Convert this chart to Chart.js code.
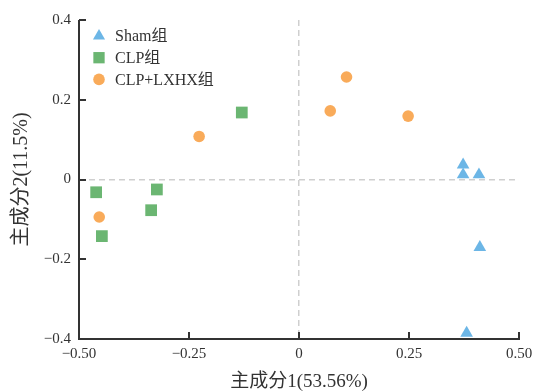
<!DOCTYPE html>
<html>
<head>
<meta charset="utf-8">
<script src="https://cdn.jsdelivr.net/npm/chart.js@4.4.1/dist/chart.umd.min.js"></script>
<style>
  html, body { margin: 0; padding: 0; background: #fff; }
  #wrap { width: 539px; height: 392px; }
</style>
</head>
<body>
<div id="wrap"><canvas id="pca"></canvas></div>
<script>
// PCA scores
const seriesNames = ['Sham组', 'CLP组', 'CLP+LXHX组'];
const shamX = [0.373, 0.373, 0.409, 0.411, 0.381];
const shamY = [0.037, 0.012, 0.012, -0.170, -0.385];
const clpX = [-0.130, -0.461, -0.323, -0.336, -0.448];
const clpY = [0.168, -0.032, -0.025, -0.077, -0.142];
const lxhxX = [-0.227, -0.454, 0.108, 0.071, 0.248];
const lxhxY = [0.108, -0.094, 0.257, 0.172, 0.159];
const xTicks = [-0.5, -0.25, 0, 0.25, 0.5];
const yTicks = [-0.4, -0.2, 0, 0.2, 0.4];

const serif = '"Liberation Serif", "Noto Sans CJK SC", serif';
const axisColor = '#333';

function pts(xs, ys) {
  return xs.map((x, i) => ({ x: x, y: ys[i] }));
}

function fmt(v) {
  if (Math.abs(v) < 1e-9) return '0';
  const s = Math.abs(v).toFixed(v % 0.1 === 0 ? 1 : 2);
  return (v < 0 ? '\u2212' : '') + s;
}

const zeroLine = c => (c.tick && Math.abs(c.tick.value) < 1e-9) ? '#cfcfcf' : 'rgba(0,0,0,0)';

// axis lines, inward ticks and the legend inside the top-left corner
const decorations = {
  id: 'decorations',
  afterDraw(chart) {
    const ctx = chart.ctx, a = chart.chartArea;
    const xs = chart.scales.x, ys = chart.scales.y;
    ctx.save();
    ctx.fillStyle = '#333333';
    ctx.fillRect(78, 20, 2, 320);
    ctx.fillRect(78, 338, 442, 2);
    xTicks.forEach(v => {
      const px = Math.round(xs.getPixelForValue(v));
      ctx.fillRect(px - 1, 332, 2, 7);
    });
    yTicks.forEach(v => {
      const py = Math.round(ys.getPixelForValue(v));
      ctx.fillRect(79, py - 1, 7, 2);
    });

    ctx.font = '16px ' + serif;
    ctx.textBaseline = 'middle';
    chart.data.datasets.forEach((ds, i) => {
      const cx = a.left + 20, cy = a.top + 16 + i * 21.7;
      ctx.fillStyle = ds.backgroundColor;
      Chart.helpers.drawPoint(ctx, { pointStyle: ds.pointStyle, radius: ds.legendRadius, borderWidth: 0 }, cx, cy);
      ctx.fillStyle = axisColor;
      ctx.fillText(ds.label, a.left + 36, cy + 1);
    });
    ctx.restore();
  }
};

new Chart(document.getElementById('pca'), {
  type: 'scatter',
  data: {
    datasets: [
      { label: seriesNames[0], data: pts(shamX, shamY), pointStyle: 'triangle', pointRadius: 7.3, legendRadius: 7,
        backgroundColor: '#6cb6e6', borderWidth: 0 },
      { label: seriesNames[1], data: pts(clpX, clpY), pointStyle: 'rect', pointRadius: 8.3, legendRadius: 8,
        backgroundColor: '#6bb672', borderWidth: 0 },
      { label: seriesNames[2], data: pts(lxhxX, lxhxY), pointStyle: 'circle', pointRadius: 5.8, legendRadius: 5.8,
        backgroundColor: '#f9ab5a', borderWidth: 0 }
    ]
  },
  options: {
    responsive: true,
    maintainAspectRatio: false,
    animation: false,
    layout: { padding: { top: 20, right: 20, left: 0, bottom: 0 } },
    plugins: { legend: { display: false }, tooltip: { enabled: false } },
    scales: {
      x: {
        min: -0.5, max: 0.5,
        afterBuildTicks: s => { s.ticks = xTicks.map(v => ({ value: v })); },
        afterFit: s => { s.height = 53; },
        ticks: { callback: v => fmt(v), color: axisColor, padding: 6, maxRotation: 0,
          font: { family: serif, size: 15 } },
        grid: { color: zeroLine, lineWidth: 1.5, drawTicks: false },
        border: { display: false, dash: [6, 4] },
        title: { display: true, text: '主成分1(53.56%)', color: axisColor,
          font: { family: serif, size: 19, lineHeight: 1 }, padding: { top: 0, bottom: 0 } }
      },
      y: {
        min: -0.4, max: 0.4,
        afterBuildTicks: s => { s.ticks = yTicks.map(v => ({ value: v })); },
        afterFit: s => { s.width = 79; },
        ticks: { callback: v => fmt(v), color: axisColor, padding: 8,
          font: { family: serif, size: 15 } },
        grid: { color: zeroLine, lineWidth: 1.5, drawTicks: false },
        border: { display: false, dash: [6, 4] },
        title: { display: true, text: '主成分2(11.5%)', color: axisColor,
          font: { family: serif, size: 20, lineHeight: 1 }, padding: { top: 12, bottom: 0 } }
      }
    }
  },
  plugins: [decorations]
});
</script>
</body>
</html>
